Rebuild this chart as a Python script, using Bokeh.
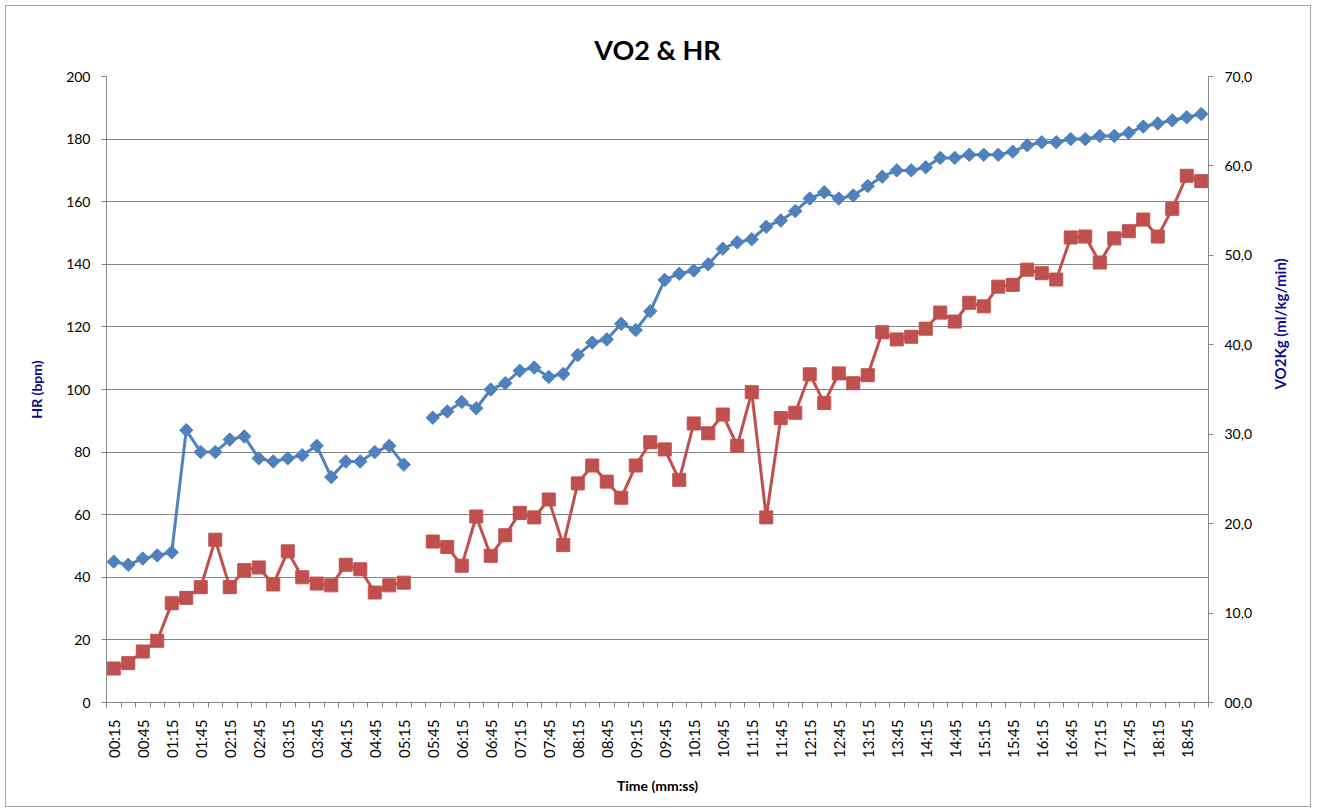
import numpy as np
from bokeh.plotting import figure
from bokeh.models import (Range1d, LinearAxis, FixedTicker, Title)
from bokeh.embed import file_html
from bokeh.resources import INLINE

# ---- data ----
times = [f"{s // 60:02d}:{s % 60:02d}" for s in range(15, 1141, 15)]  # 00:15 .. 19:00
hr = [45, 44, 46, 47, 48, 87, 80, 80, 84, 85, 78, 77, 78, 79, 82, 72, 77, 77, 80, 82, 76,
      None,
      91, 93, 96, 94, 100, 102, 106, 107, 104, 105, 111, 115, 116, 121, 119, 125, 135, 137,
      138, 140, 145, 147, 148, 152, 154, 157, 161, 163, 161, 162, 165, 168, 170, 170, 171,
      174, 174, 175, 175, 175, 176, 178, 179, 179, 180, 180, 181, 181, 182, 184, 185, 186,
      187, 188]
vo2 = [3.8, 4.4, 5.7, 6.9, 11.1, 11.7, 12.9, 18.2, 12.9, 14.8, 15.1, 13.2, 16.9, 14.0, 13.3,
       13.1, 15.4, 14.9, 12.3, 13.1, 13.4,
       None,
       18.0, 17.4, 15.3, 20.8, 16.4, 18.7, 21.2, 20.7, 22.7, 17.6, 24.5, 26.5, 24.7, 22.9,
       26.5, 29.1, 28.3, 24.9, 31.2, 30.1, 32.2, 28.7, 34.7, 20.7, 31.8, 32.4, 36.7, 33.5,
       36.8, 35.7, 36.6, 41.4, 40.6, 40.9, 41.8, 43.6, 42.6, 44.7, 44.3, 46.5, 46.7, 48.4,
       48.0, 47.3, 52.0, 52.1, 49.2, 51.9, 52.7, 54.0, 52.1, 55.2, 58.9, 58.3]
hr_ticks = list(range(0, 201, 20))
vo2_ticks = list(range(0, 71, 10))
vo2_tick_labels = {v: f"{v:02d},0" for v in vo2_ticks}

x = list(range(len(times)))
hr_arr = np.array([np.nan if v is None else v for v in hr], dtype=float)
vo2_arr = np.array([np.nan if v is None else v for v in vo2], dtype=float)

FONT = "Lato"
GREY = "#868686"
NAVY = "#0c0c8c"
BLUE = "#4F81BD"
RED = "#C0504D"

p = figure(width=1306, height=802, output_backend="svg", toolbar_location=None,
           x_range=Range1d(-0.5, len(times) - 0.5), y_range=Range1d(0, 200),
           min_border_left=100, min_border_right=104, min_border_top=70,
           min_border_bottom=106)
p.styles = {"border": "1px solid #a6a6a6", "margin-left": "5px", "margin-top": "5px"}
p.extra_y_ranges = {"vo2": Range1d(0, 70)}
p.outline_line_color = None
p.background_fill_color = "white"
p.border_fill_color = "white"

# title
p.title.text = "VO2 & HR"
p.title.align = "center"
p.title.text_font = FONT
p.title.text_font_size = "27px"
p.title.text_font_style = "bold"
p.title.text_color = "black"
p.title.standoff = 22

# x axis
xa = p.xaxis[0]
xa.ticker = FixedTicker(ticks=x[::2], minor_ticks=[i - 0.5 for i in range(len(times) + 1)])
xa.major_label_overrides = {i: times[i] for i in x[::2]}
xa.major_label_orientation = np.pi / 2
xa.major_tick_out = 0
xa.major_tick_in = 0
xa.minor_tick_out = 5
xa.minor_tick_in = 0
xa.minor_tick_line_color = GREY
xa.axis_line_color = GREY
xa.major_label_standoff = 12
xa.major_label_text_font = FONT
xa.major_label_text_font_size = "15px"
xa.major_label_text_color = "black"
xa.axis_label = "Time (mm:ss)"
xa.axis_label_text_font = FONT
xa.axis_label_text_font_size = "14px"
xa.axis_label_text_font_style = "bold"
xa.axis_label_text_color = "black"
xa.axis_label_standoff = 16

# left axis
ya = p.yaxis[0]
ya.ticker = FixedTicker(ticks=hr_ticks)
ya.major_tick_out = 5
ya.major_tick_in = 0
ya.minor_tick_out = 0
ya.minor_tick_in = 0
ya.major_tick_line_color = GREY
ya.axis_line_color = GREY
ya.major_label_standoff = 11
ya.major_label_text_font = FONT
ya.major_label_text_font_size = "14px"
ya.major_label_text_color = "black"
ya.axis_label = "HR (bpm)"
ya.axis_label_text_font = FONT
ya.axis_label_text_font_size = "14px"
ya.axis_label_text_font_style = "bold"
ya.axis_label_text_color = NAVY
ya.axis_label_standoff = 18

# right axis
ra = LinearAxis(y_range_name="vo2", ticker=FixedTicker(ticks=vo2_ticks))
ra.major_label_overrides = vo2_tick_labels
ra.major_tick_out = 5
ra.major_tick_in = 0
ra.minor_tick_out = 0
ra.minor_tick_in = 0
ra.major_tick_line_color = GREY
ra.axis_line_color = GREY
ra.major_label_standoff = 11
ra.major_label_text_font = FONT
ra.major_label_text_font_size = "14px"
ra.major_label_text_color = "black"
p.add_layout(ra, "right")

# right axis title (reads bottom to top)
RIGHT_LABEL = "VO2Kg (ml/kg/min)"
if "axis_label_orientation" in ra.properties():
    ra.axis_label = RIGHT_LABEL
    ra.axis_label_orientation = np.pi / 2
    ra.axis_label_text_font = FONT
    ra.axis_label_text_font_size = "15px"
    ra.axis_label_text_font_style = "bold"
    ra.axis_label_text_color = NAVY
    ra.axis_label_standoff = 25
else:
    p.add_layout(Title(text=RIGHT_LABEL, align="center", text_font=FONT,
                       text_font_size="15px", text_font_style="bold",
                       text_color=NAVY), "right")

# grid
p.xgrid.visible = False
p.ygrid.ticker = FixedTicker(ticks=hr_ticks)
p.ygrid.grid_line_color = GREY
p.ygrid.grid_line_width = 1

# series
p.line(x, hr_arr, line_color=BLUE, line_width=3)
p.scatter(x, hr_arr, marker="square", angle=np.pi / 4, size=9.5,
          fill_color=BLUE, line_color=BLUE)
p.line(x, vo2_arr, line_color=RED, line_width=3, y_range_name="vo2")
p.scatter(x, vo2_arr, marker="square", size=13, fill_color=RED, line_color=RED,
          y_range_name="vo2")

open("out.html", "w").write(file_html(p, INLINE))
